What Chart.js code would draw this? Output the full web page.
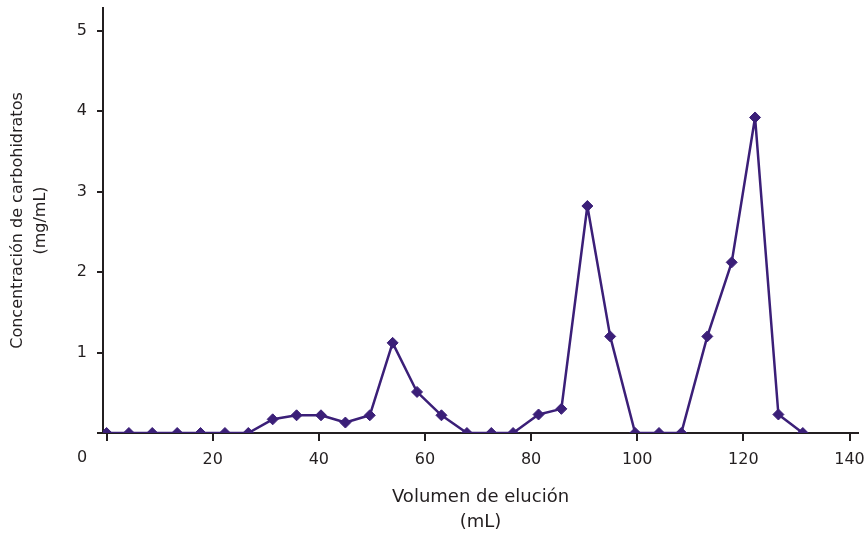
<!DOCTYPE html>
<html>
<head>
<meta charset="utf-8">
<script src="https://cdn.jsdelivr.net/npm/chart.js@4"></script>
<style>
  html, body { margin: 0; padding: 0; background: #ffffff; }
  #wrap { width: 865px; height: 533px; }
</style>
</head>
<body>
<div id="wrap"><canvas id="c" width="865" height="533"></canvas></div>
<script>
// ---- data ----
const volumes = [0, 4.2, 8.6, 13.3, 17.7, 22.3, 26.7, 31.3, 35.8, 40.4, 45.0, 49.6, 53.9, 58.5, 63.1, 67.9, 72.5, 76.6, 81.4, 85.7, 90.6, 94.9, 99.6, 104.1, 108.3, 113.2, 117.8, 122.2, 126.6, 131.2];
const concentrations = [0, 0, 0, 0, 0, 0, 0, 0.17, 0.22, 0.22, 0.13, 0.22, 1.12, 0.51, 0.22, 0, 0, 0, 0.23, 0.30, 2.82, 1.20, 0, 0, 0, 1.20, 2.12, 3.92, 0.23, 0];
const xTickValues = [0, 20, 40, 60, 80, 100, 120, 140];
const yTickValues = [0, 1, 2, 3, 4, 5];
const originLabel = '0';
const xTitle = ['Volumen de elución', '(mL)'];
const yTitle = ['Concentración de carbohidratos', '(mg/mL)'];

const points = volumes.map((v, i) => ({ x: v, y: concentrations[i] }));
const FONT = 'DejaVu Sans';
const INK = '#231f20';
const PURPLE = '#3b1f78';

const originLabelPlugin = {
  id: 'originLabel',
  afterDraw(chart) {
    const { ctx } = chart;
    const xs = chart.scales.x;
    ctx.save();
    ctx.font = '16px "' + FONT + '"';
    ctx.fillStyle = INK;
    ctx.textAlign = 'center';
    ctx.textBaseline = 'middle';
    ctx.fillText(originLabel, xs.left - 21, xs.top + 25);
    ctx.restore();
  }
};

new Chart(document.getElementById('c'), {
  type: 'line',
  data: {
    datasets: [{
      data: points,
      borderColor: PURPLE,
      backgroundColor: PURPLE,
      borderWidth: 2.5,
      borderJoinStyle: 'round',
      pointStyle: 'rectRot',
      pointRadius: 5.5,
      pointHoverRadius: 5.5,
      pointBorderWidth: 1,
      tension: 0,
      fill: false
    }]
  },
  options: {
    responsive: false,
    animation: false,
    devicePixelRatio: 1,
    layout: { padding: { top: 8, right: 7, left: 0, bottom: 0 } },
    plugins: { legend: { display: false }, tooltip: { enabled: false } },
    scales: {
      x: {
        type: 'linear',
        min: -0.68,
        max: 141.6,
        afterBuildTicks(axis) { axis.ticks = xTickValues.map(v => ({ value: v })); },
        afterFit(axis) { axis.height = 100; axis.paddingLeft = 0; axis.paddingRight = 0; },
        border: { display: true, color: INK, width: 2 },
        grid: { display: true, drawOnChartArea: false, drawTicks: true, tickLength: 8, color: INK, lineWidth: 2 },
        ticks: {
          color: INK,
          font: { family: FONT, size: 16 },
          padding: 9,
          maxRotation: 0,
          callback: (v) => (v === 0 ? '' : String(v))
        },
        title: {
          display: true,
          text: xTitle,
          color: INK,
          font: { family: FONT, size: 18, lineHeight: 1.35 },
          padding: { top: 0, bottom: -1 }
        }
      },
      y: {
        type: 'linear',
        min: 0,
        max: 5.28,
        afterBuildTicks(axis) { axis.ticks = yTickValues.map(v => ({ value: v })); },
        afterFit(axis) { axis.width = 103; axis.paddingTop = 0; axis.paddingBottom = 0; },
        border: { display: true, color: INK, width: 2 },
        grid: { display: true, drawOnChartArea: false, drawTicks: true, tickLength: 6, color: INK, lineWidth: 2 },
        ticks: {
          color: INK,
          font: { family: FONT, size: 16 },
          padding: 10,
          callback: (v) => (v === 0 ? '' : String(v))
        },
        title: {
          display: true,
          text: yTitle,
          color: INK,
          font: { family: FONT, size: 16, lineHeight: 1.47 },
          padding: { top: 6, bottom: 0 }
        }
      }
    }
  },
  plugins: [originLabelPlugin]
});
</script>
</body>
</html>
